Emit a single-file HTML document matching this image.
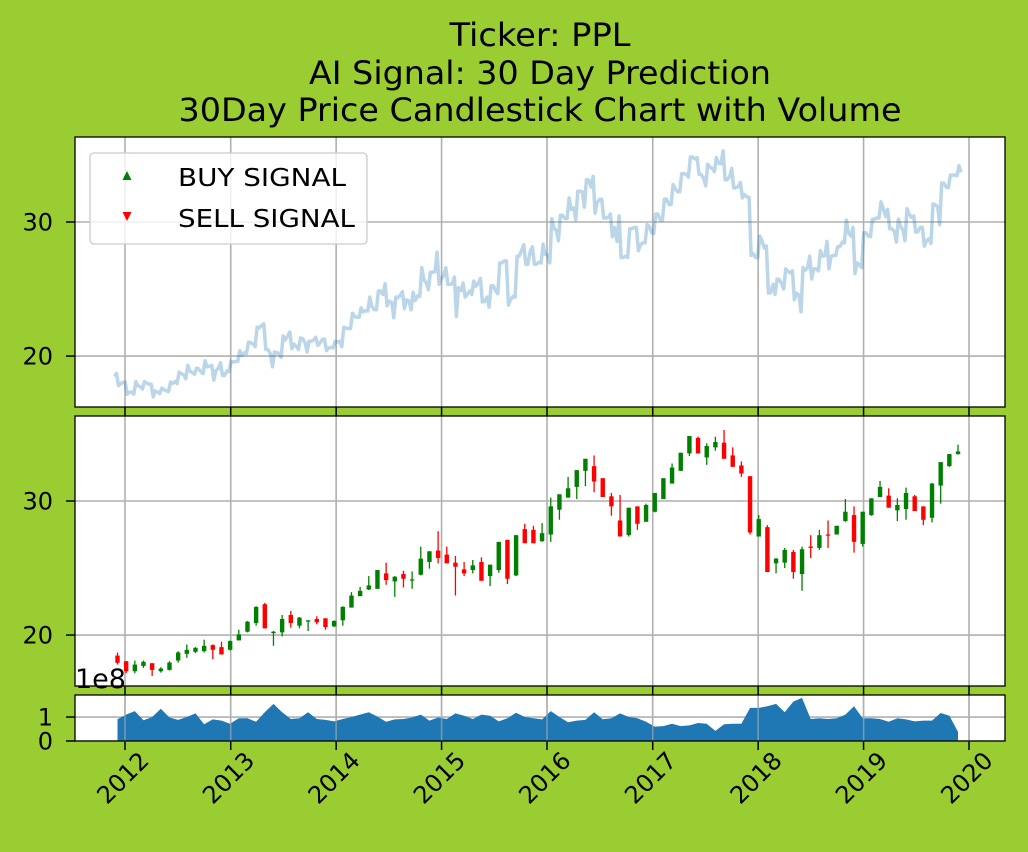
<!DOCTYPE html>
<html><head><meta charset="utf-8"><style>
body{margin:0;background:#9acd32;}
svg{display:block;font-family:"DejaVu Sans","Liberation Sans",sans-serif;}
</style></head><body>
<svg id="c" width="1028" height="852" xmlns="http://www.w3.org/2000/svg">
<rect width="1028" height="852" fill="#9acd32"/>
<g font-size="32" text-anchor="middle" fill="#000">
<text x="540" y="46" textLength="181" lengthAdjust="spacingAndGlyphs">Ticker: PPL</text>
<text x="540" y="84" textLength="462" lengthAdjust="spacingAndGlyphs">AI Signal: 30 Day Prediction</text>
<text x="540" y="121" textLength="723" lengthAdjust="spacingAndGlyphs">30Day Price Candlestick Chart with Volume</text>
</g>
</svg>
<script>
const startDate = "2011-12-06";
const stepDays = 30;
const opens  = [18.47,18.05,17.3,17.7,17.9,17.3,17.4,18.1,18.6,18.75,18.8,19.25,19.1,18.9,19.6,20.25,20.9,22.3,20.15,20.2,21.5,20.7,21.0,21.2,21.25,20.65,21.1,22.05,22.9,23.4,23.45,24.6,24.0,24.55,24.1,24.5,25.45,26.3,26.0,25.4,24.9,24.85,25.45,24.4,24.85,27.1,24.45,27.9,27.85,27.0,27.5,29.35,30.25,31.05,32.25,32.6,31.7,30.35,28.55,27.45,29.6,28.45,29.2,30.15,31.3,32.25,33.55,34.7,33.25,34.0,34.35,33.4,32.65,31.85,27.35,28.05,25.35,25.4,26.2,24.55,26.6,26.5,27.5,27.5,28.5,28.95,26.8,28.95,30.3,30.4,29.3,29.4,30.35,29.6,28.75,31.15,32.6,33.5];
const closes = [17.93,17.3,17.8,18.0,17.4,17.5,17.95,18.7,18.9,19.05,19.2,18.9,18.55,19.55,20.05,21.0,22.1,20.5,20.25,21.2,20.9,21.3,21.1,20.95,20.6,21.05,22.1,22.95,23.3,23.7,24.85,24.1,24.35,24.2,24.15,25.7,26.25,25.75,25.35,25.1,24.6,25.2,24.05,25.25,26.95,24.2,27.45,26.85,26.85,27.6,29.6,30.5,30.95,32.3,33.15,31.45,30.3,29.6,27.35,29.5,28.3,29.7,30.6,31.7,32.5,33.6,34.85,33.55,34.1,34.4,33.15,32.55,32.05,27.65,28.65,24.7,25.7,26.35,24.7,26.4,26.5,27.45,27.45,28.15,29.2,26.95,29.2,30.2,31.05,29.5,29.7,30.6,29.25,28.6,31.3,32.9,33.5,33.7];
const highs  = [18.7,18.05,18.1,18.1,17.9,17.6,18.05,18.8,19.3,19.1,19.65,19.3,19.5,19.6,20.4,21.05,22.15,22.4,20.3,21.5,21.8,21.35,21.1,21.4,21.25,21.1,22.15,23.2,23.6,24.4,24.85,25.4,24.4,24.8,24.75,26.6,26.25,27.75,26.6,25.9,25.45,25.6,25.8,25.25,26.95,27.1,27.45,28.3,28.15,28.35,30.25,30.5,31.8,32.3,33.15,33.4,31.7,30.6,30.45,29.5,29.6,29.8,30.6,31.7,32.8,33.6,34.85,34.8,34.3,34.8,35.3,34.0,32.95,31.85,28.95,28.2,25.75,26.5,26.35,26.6,27.45,27.85,28.55,28.15,30.15,29.6,29.2,30.2,31.5,30.95,30.2,31.0,30.45,29.6,31.35,32.9,33.5,34.2];
const lows   = [17.8,17.15,17.15,17.55,16.95,17.2,17.35,17.95,18.3,18.65,18.7,18.2,18.55,18.85,19.6,20.2,20.7,20.5,19.2,19.9,20.55,20.5,20.3,20.8,20.4,20.6,20.7,22.05,22.9,23.35,23.45,23.75,22.85,23.55,23.45,24.45,24.95,25.35,25.35,22.95,24.4,24.6,24.05,23.65,24.65,23.8,24.4,26.85,26.85,26.95,26.95,28.6,30.25,30.15,31.1,30.65,30.3,28.9,27.35,27.35,27.85,28.45,29.15,30.15,31.3,32.25,33.35,33.55,32.7,33.75,33.15,32.55,31.8,27.5,27.35,24.7,24.6,25.0,24.2,23.3,25.75,26.35,26.5,27.5,28.45,26.15,26.6,28.9,30.3,29.5,28.5,28.6,29.25,28.2,28.4,29.8,32.55,33.45];
const volumes = [0.91,1.1,1.25,0.87,1.0,1.35,0.98,0.88,1.0,1.15,0.7,0.9,0.85,0.72,0.95,0.95,0.8,1.2,1.55,1.2,0.92,0.95,1.2,0.92,0.88,0.82,0.92,1.0,1.1,1.2,1.02,0.8,0.9,0.92,0.98,1.1,0.85,0.98,0.92,1.15,1.05,0.92,1.1,1.05,0.82,0.95,1.18,1.0,0.95,0.9,1.25,1.0,0.78,0.85,0.88,1.2,0.91,0.95,1.15,1.0,0.95,0.8,0.6,0.62,0.72,0.62,0.65,0.75,0.72,0.42,0.7,0.72,0.72,1.38,1.38,1.45,1.55,1.2,1.65,1.8,0.92,0.95,0.92,0.95,1.1,1.45,0.95,0.95,0.92,0.8,0.95,0.9,0.82,0.85,0.85,1.17,1.05,0.38];
const yearTicks = [2012,2013,2014,2015,2016,2017,2018,2019,2020];
const priceTicks = [20,30];
const volTicks = [0,1];

const NS="http://www.w3.org/2000/svg";
const svg=document.getElementById('c');
function mk(tag,attrs,parent){const e=document.createElementNS(NS,tag);for(const k in attrs)e.setAttribute(k,attrs[k]);(parent||svg).appendChild(e);return e;}
const L=75,R=1005;
const dayMs=86400000, t0=Date.UTC(2012,0,1);
const pxPerDay=105.5/365.25;
function xDate(ms){return 125+((ms-t0)/dayMs)*pxPerDay;}
function xYear(y){return xDate(Date.UTC(y,0,1));}
const sd=new Date(startDate+"T00:00:00Z").getTime();
function xi(i){return xDate(sd+i*stepDays*dayMs);}
const pmin=16.2,pmax=36.34;
function yTop(p){return 137+(pmax-p)/(pmax-pmin)*270;}
function yMid(p){return 416+(pmax-p)/(pmax-pmin)*270;}
function yVol(v){return 741-(v/1.92)*46;}

function panel(name,top,bot,yfun,ticks,labels){
  const g=mk('g',{});
  
  
  mk('rect',{x:L,y:top,width:R-L,height:bot-top,fill:'#fff'},g);
  yearTicks.forEach(y=>{const x=xYear(y);const l=mk('line',{x1:x,x2:x,y1:top,y2:bot,stroke:'#b0b0b0','stroke-width':1.6},g);
    
    mk('line',{x1:x,x2:x,y1:bot,y2:bot+9,stroke:'#000','stroke-width':1.5},g);});
  ticks.forEach(t=>{const y=yfun(t);const l=mk('line',{x1:L,x2:R,y1:y,y2:y,stroke:'#b0b0b0','stroke-width':1.6},g);
    
    mk('line',{x1:L-9,x2:L,y1:y,y2:y,stroke:'#000','stroke-width':1.5},g);
    if(labels){const tx=mk('text',{x:L-22,y:y+8.5,'text-anchor':'end','font-size':labels},g);tx.textContent=t;
      }});
  return g;
}
const gt=panel('price-line-panel',137,407,yTop,priceTicks,24);
let pts=[];
opens.forEach((o,i)=>{const x=xi(i);const up=closes[i]>=o;
  pts.push([x-3,o]);pts.push([x-1,up?lows[i]:highs[i]]);pts.push([x+1,up?highs[i]:lows[i]]);pts.push([x+3,closes[i]]);});
const pl=mk('path',{d:'M'+pts.map(p=>p[0].toFixed(1)+','+yTop(p[1]).toFixed(1)).join('L'),fill:'none',stroke:'#1f77b4','stroke-opacity':0.3,'stroke-width':3.5,'stroke-linejoin':'round'},gt);


mk('rect',{x:L,y:137,width:R-L,height:270,fill:'none',stroke:'#000','stroke-width':1.3},gt);
const lg=mk('g',{});


mk('rect',{x:90,y:153,width:277,height:91,rx:4,fill:'#fff','fill-opacity':0.8,stroke:'#ccc','stroke-width':1.3},lg);
const b=mk('path',{d:'M127,171 L131.5,180 L122.5,180 Z',fill:'green'},lg);

const t1=mk('text',{x:178,y:186,'font-size':25,textLength:168,lengthAdjust:'spacingAndGlyphs'},lg);t1.textContent='BUY SIGNAL';

const s=mk('path',{d:'M122.5,212 L131.5,212 L127,221 Z',fill:'red'},lg);

const t2=mk('text',{x:178,y:227,'font-size':25,textLength:177,lengthAdjust:'spacingAndGlyphs'},lg);t2.textContent='SELL SIGNAL';


const gm=panel('candlestick-panel',416,686,yMid,priceTicks,24);
opens.forEach((o,i)=>{const x=xi(i);const c=closes[i];const col=c>=o?'green':'red';
  const w=mk('line',{x1:x,x2:x,y1:yMid(highs[i]),y2:yMid(lows[i]),stroke:col,'stroke-width':1.3},gm);
  
  const yt=yMid(Math.max(o,c)),yb=yMid(Math.min(o,c));
  const r=mk('rect',{x:x-2.2,y:yt,width:4.4,height:Math.max(1.2,yb-yt),fill:col},gm);
  });
mk('rect',{x:L,y:416,width:R-L,height:270,fill:'none',stroke:'#000','stroke-width':1.3},gm);

const gv=panel('volume-panel',695,741,yVol,volTicks,24);
let vd='M'+xi(0).toFixed(1)+','+yVol(0);
volumes.forEach((v,i)=>{vd+='L'+xi(i).toFixed(1)+','+yVol(v).toFixed(1);});
vd+='L'+xi(volumes.length-1).toFixed(1)+','+yVol(0)+'Z';
const va=mk('path',{d:vd,fill:'#1f77b4'},gv);

yearTicks.forEach(y=>{const x=xYear(y);mk('line',{x1:x,x2:x,y1:695,y2:741,stroke:'#b0b0b0','stroke-width':1.6,'stroke-opacity':0.6},gv);});
mk('rect',{x:L,y:695,width:R-L,height:46,fill:'none',stroke:'#000','stroke-width':1.3},gv);
const ex=mk('text',{x:75,y:688,'font-size':27},svg);ex.textContent='1e8';


yearTicks.forEach(y=>{const x=xYear(y)-2,yy=778;
  const t=mk('text',{x:x,y:yy,'text-anchor':'middle','dominant-baseline':'central','font-size':24,transform:'rotate(-45 '+x+' '+yy+')'},svg);
  t.textContent=y;
  
  });
</script>
</body></html>
